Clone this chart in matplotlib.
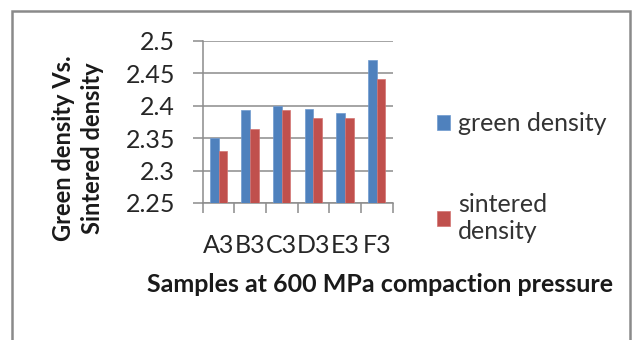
import matplotlib
matplotlib.use("Agg")
import matplotlib.pyplot as plt
import numpy as np
from matplotlib.patches import Rectangle

# -----------------------------
# Data
# -----------------------------
samples = ["A3", "B3", "C3", "D3", "E3", "F3"]
green_density = [2.351, 2.393, 2.400, 2.395, 2.389, 2.470]
sintered_density = [2.331, 2.364, 2.393, 2.381, 2.381, 2.441]
series_labels = ["green density", "sintered\ndensity"]
y_ticks = [2.25, 2.3, 2.35, 2.4, 2.45, 2.5]
y_tick_labels = ["2.25", "2.3", "2.35", "2.4", "2.45", "2.5"]

blue = "#4F81BD"
red = "#C0504D"
grid_col = "#8C8C8C"

plt.rcParams["font.family"] = ["Lato", "DejaVu Sans"]

W, H = 633, 340
fig = plt.figure(figsize=(W / 100, H / 100), dpi=100)

# outer chart border (bottom edge is cut off in the original)
fig.patches.append(Rectangle((12 / W, -0.05), (630 - 12) / W, (H - 11) / H + 0.05,
                             transform=fig.transFigure, fill=False,
                             edgecolor="#8A8A8A", linewidth=1.8))

ax = fig.add_axes([202.7 / W, (H - 203) / H, (392.5 - 202.7) / W, (203 - 41) / H])

x = np.arange(len(samples))
bw = 0.275
ax.bar(x - bw / 2, np.array(green_density) - 2.25, bw, bottom=2.25, color=blue,
       edgecolor="#6F9AD0", linewidth=0.5, label=series_labels[0], zorder=3)
ax.bar(x + bw / 2, np.array(sintered_density) - 2.25, bw, bottom=2.25, color=red,
       edgecolor="#D37472", linewidth=0.5, label=series_labels[1], zorder=3)

ax.set_xlim(-0.5, len(samples) - 0.5)
ax.set_ylim(2.25, 2.5)
ax.set_yticks(y_ticks)
ax.set_yticklabels(y_tick_labels, fontsize=18, color="#262626")
ax.yaxis.grid(True, color=grid_col, linewidth=1.1, zorder=0)
ax.set_axisbelow(True)

# category boundary ticks, labels centered under each group
ax.set_xticks(np.arange(len(samples) + 1) - 0.5)
ax.set_xticklabels([])
ax.set_xticks(x, minor=True)
ax.set_xticklabels(samples, minor=True, fontsize=18, color="#262626")
ax.tick_params(axis="x", which="minor", length=0, pad=22)
ax.tick_params(axis="x", which="major", length=7, width=1.1, color=grid_col)
ax.tick_params(axis="y", length=7, width=1.1, color=grid_col, pad=13)

for s in ["top", "right"]:
    ax.spines[s].set_visible(False)
for s in ["left", "bottom"]:
    ax.spines[s].set_color(grid_col)
    ax.spines[s].set_linewidth(1.1)

fig.text(78 / W, 1 - 148 / H, "Green density Vs.\nSintered density", rotation=90,
         ha="center", va="center", multialignment="center", fontsize=17,
         fontweight="bold", color="#1a1a1a", linespacing=1.35)
fig.text(380 / W, 1 - 285 / H, "Samples at 600 MPa compaction pressure",
         ha="center", va="center", fontsize=18, fontweight="bold", color="#1a1a1a")

fig.legend(loc="upper left", bbox_to_anchor=(414 / W, 1 - 90 / H), frameon=False,
           fontsize=18, handlelength=0.55, handleheight=0.55, handletextpad=0.3,
           labelspacing=2.3, labelcolor="#333333")

fig.savefig("out.png", dpi=100)
